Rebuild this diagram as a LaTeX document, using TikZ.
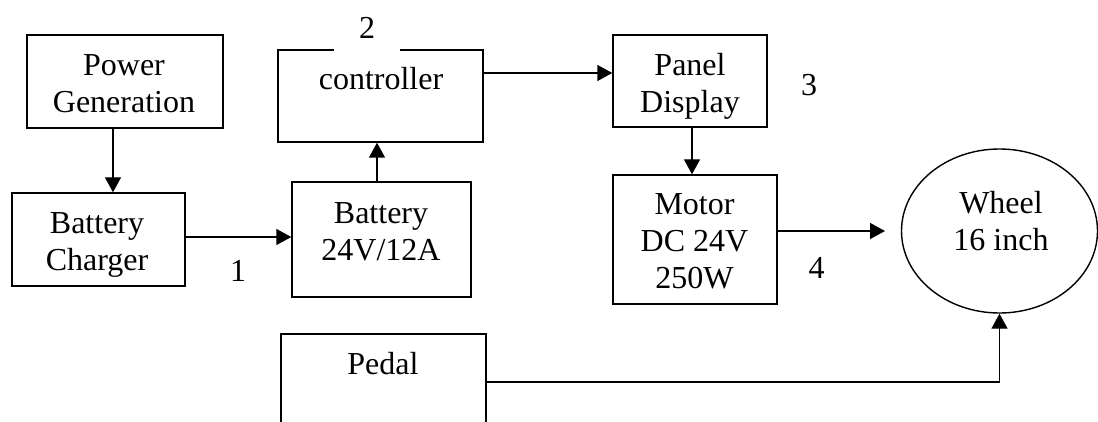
\documentclass[tikz,border=0pt]{standalone}
\usepackage{fontspec}
\setmainfont{Liberation Serif}
\usetikzlibrary{arrows.meta,positioning,shapes.geometric}

\tikzset{
  blk/.style={draw,line width=1.4pt,inner sep=0pt},
  txt/.style={font=\fontsize{32}{37}\selectfont,align=center,inner sep=0pt},
  arr/.style={line width=1.4pt,-{Triangle[length=15pt,width=16pt]}}
}

\begin{document}
\begin{tikzpicture}[x=1pt,y=-1pt]
  \clip (0,0) rectangle (1098,422);

  % Blocks
  \node[blk,minimum width=196pt,minimum height=93pt] (power) at (125,81.5) {};
  \node[blk,minimum width=173pt,minimum height=93pt] (charger) at (98.5,239.5) {};
  \node[blk,minimum width=179pt,minimum height=115pt] (battery) at (381.5,239.5) {};
  \node[blk,minimum width=205pt,minimum height=92pt] (ctrl) at (380.5,96) {};
  \node[blk,minimum width=154pt,minimum height=92pt] (panel) at (690,81) {};
  \node[blk,minimum width=164pt,minimum height=129pt] (motor) at (695,239.5) {};
  \node[blk,minimum width=205pt,minimum height=96pt] (pedal) at (383.5,382) {};
  \node[blk,ellipse,minimum width=196pt,minimum height=164pt] (wheel) at (999.5,231) {};

  % Block texts
  \node[txt] (power-t) at (124,84) {Power\\Generation};
  \node[txt] (charger-t) at (97,244.5) {Battery\\Charger};
  \node[txt] (battery-t) at (381,231.5) {Battery\\24V/12A};
  \node[txt] (ctrl-t) at (381,79) {controller};
  \node[txt] (panel-t) at (690,86) {Panel\\Display};
  \node[txt] (motor-t) at (694.5,241) {Motor\\DC 24V\\250W};
  \node[txt] (pedal-t) at (383,364) {Pedal};
  \node[txt] (wheel-t) at (1001,221) {Wheel\\16 inch};

  % Numbers
  \node[txt] (n1) at (238,271) {1};
  \node[txt,fill=white,minimum width=66pt,minimum height=50pt] (n2) at (367,28) {2};
  \node[txt] (n3) at (809,85.5) {3};
  \node[txt] (n4) at (816.5,267.5) {4};

  % Connectors
  \coordinate (end4) at (885,231);
  \draw[arr] ([xshift=-12pt]power.south) -- ([xshift=-12pt]power.south |- charger.north);
  \draw[arr] ([yshift=2.5pt]charger.east) -- ([yshift=2.5pt]charger.east -| battery.west);
  \draw[arr] ([xshift=-4.5pt]battery.north) -- ([xshift=-4.5pt]battery.north |- ctrl.south);
  \draw[arr] ([yshift=23pt]ctrl.east) -- ([yshift=23pt]ctrl.east -| panel.west);
  \draw[arr] ([xshift=2pt]panel.south) -- ([xshift=2pt]panel.south |- motor.north);
  \draw[arr] ([yshift=8.5pt]motor.east) -- (end4);
  \draw[arr] (pedal.east) -| (wheel.south);
\end{tikzpicture}
\end{document}
